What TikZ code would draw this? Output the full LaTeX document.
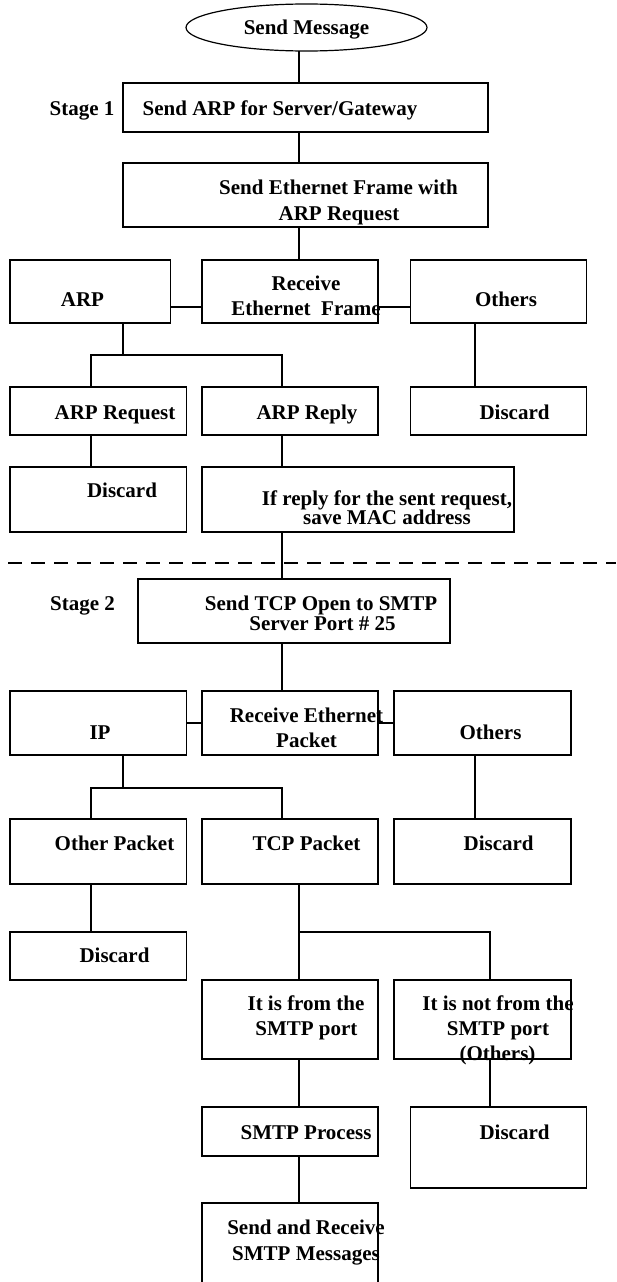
\documentclass[tikz,border=0pt]{standalone}
\usepackage{fontspec}
\setmainfont{Liberation Serif}
\usetikzlibrary{shapes.geometric}
\tikzset{
  ln/.style={line width=1.2pt},
  box/.style={draw, line width=1.2pt, rectangle, inner sep=0pt, outer sep=0pt},
  tx/.style={anchor=base, inner sep=0pt, font=\fontsize{21}{25}\selectfont\bfseries},
  dashline/.style={line width=1.2pt, dash pattern=on 14pt off 9pt}
}
\newcommand{\bx}[5]{\node[box, minimum width={#4-#2}, minimum height={#5-#3}] (#1) at ({(#2+#4)/2},{(#3+#5)/2}) {};}
\newcommand{\tx}[4]{\node[tx] (#1) at (#2,{#3+7}) {#4};}
\begin{document}
\begin{tikzpicture}[x=1pt,y=-1pt]
\clip (0,0) rectangle (616,1282);
% coordinates for connector positions
\coordinate (xa) at (299,0);
\coordinate (xb) at (123,0);
\coordinate (xl) at (91,0);
\coordinate (xr) at (282,0);
\coordinate (xo) at (475,0);
\coordinate (xn) at (490,0);
\coordinate (ya) at (0,307);
\coordinate (yb) at (0,723);
\coordinate (j1) at (0,355);
\coordinate (j2) at (0,788);
\coordinate (j3) at (0,932);
\coordinate (dl) at (8,563);
\coordinate (dr) at (616,563);
% boxes
\node[draw, ellipse, line width=1.2pt, inner sep=0pt, outer sep=0pt, minimum width=241, minimum height=47] (start) at (306.5,27.5) {};
\bx{arp1}{123}{83}{488}{132}
\bx{eth1}{123}{163}{488}{227}
\bx{arp}{10}{260}{170.5}{323}
\bx{recv1}{202}{260}{378}{323}
\bx{oth1}{410.6}{260}{586.6}{323}
\bx{arpreq}{10}{387}{186.6}{435}
\bx{arprep}{202}{387}{378}{435}
\bx{disc1}{410.6}{387}{586.6}{435}
\bx{disc2}{10}{467}{186.6}{532}
\bx{ifrep}{202}{467}{514}{532}
\bx{tcpopen}{138}{579}{450}{643}
\bx{ip}{10}{691}{186.6}{755}
\bx{recv2}{202}{691}{378}{755}
\bx{oth2}{394}{691}{571}{755}
\bx{otherpkt}{10}{819}{186.6}{884}
\bx{tcppkt}{202}{819}{378}{884}
\bx{disc3}{394}{819}{571}{884}
\bx{disc4}{10}{932}{186.6}{980}
\bx{fromsmtp}{202}{980}{378}{1059}
\bx{notsmtp}{394}{980}{571}{1059}
\bx{smtpproc}{202}{1107}{378}{1156}
\bx{disc5}{410.6}{1107}{586.6}{1188}
\bx{sendrecv}{202}{1203}{378}{1300}
% dashed separator
\draw[dashline] (dl) -- (dr);
% connectors
\draw[ln] (start.south -| xa) -- (arp1.north -| xa);
\draw[ln] (arp1.south -| xa) -- (eth1.north -| xa);
\draw[ln] (eth1.south -| xa) -- (recv1.north -| xa);
\draw[ln] (arp.east |- ya) -- (recv1.west |- ya);
\draw[ln] (recv1.east |- ya) -- (oth1.west |- ya);
\draw[ln] (arp.south -| xb) -- (xb |- j1);
\draw[ln] (arpreq.north -| xl) -- (xl |- j1) -- (xr |- j1) -- (arprep.north -| xr);
\draw[ln] (oth1.south -| xo) -- (disc1.north -| xo);
\draw[ln] (arpreq.south -| xl) -- (disc2.north -| xl);
\draw[ln] (arprep.south -| xr) -- (ifrep.north -| xr);
\draw[ln] (ifrep.south -| xr) -- (tcpopen.north -| xr);
\draw[ln] (tcpopen.south -| xr) -- (recv2.north -| xr);
\draw[ln] (ip.east |- yb) -- (recv2.west |- yb);
\draw[ln] (recv2.east |- yb) -- (oth2.west |- yb);
\draw[ln] (ip.south -| xb) -- (xb |- j2);
\draw[ln] (otherpkt.north -| xl) -- (xl |- j2) -- (xr |- j2) -- (tcppkt.north -| xr);
\draw[ln] (oth2.south -| xo) -- (disc3.north -| xo);
\draw[ln] (otherpkt.south -| xl) -- (disc4.north -| xl);
\draw[ln] (tcppkt.south -| xa) -- (fromsmtp.north -| xa);
\draw[ln] (xa |- j3) -- (xn |- j3) -- (notsmtp.north -| xn);
\draw[ln] (fromsmtp.south -| xa) -- (smtpproc.north -| xa);
\draw[ln] (notsmtp.south -| xn) -- (disc5.north -| xn);
\draw[ln] (smtpproc.south -| xa) -- (sendrecv.north -| xa);
% texts
\tx{t0}{306.5}{27.5}{Send Message}
\tx{s1}{82}{108}{Stage 1}
\tx{t1}{280}{108}{Send ARP for Server/Gateway}
\tx{t2a}{338.5}{187}{Send Ethernet Frame with}
\tx{t2b}{339}{213}{ARP Request}
\tx{t3}{82.5}{299}{ARP}
\tx{t4a}{306}{283}{Receive}
\tx{t4b}{306}{308}{Ethernet\ \ Frame}
\tx{t5}{506}{299}{Others}
\tx{t6}{115}{412}{ARP Request}
\tx{t7}{307}{412}{ARP Reply}
\tx{t8}{514.5}{412}{Discard}
\tx{t9}{122}{490}{Discard}
\tx{t10a}{387}{498}{If reply for the sent request,}
\tx{t10b}{387}{517}{save MAC address}
\tx{s2}{82.5}{603}{Stage 2}
\tx{t11a}{321}{603}{Send TCP Open to SMTP}
\tx{t11b}{322.5}{623}{Server Port \# 25}
\tx{t12}{100}{732}{IP}
\tx{t13a}{306.5}{715}{Receive Ethernet}
\tx{t13b}{306.5}{740}{Packet}
\tx{t14}{490.5}{732}{Others}
\tx{t15}{114.5}{843}{Other Packet}
\tx{t16}{306.5}{843}{TCP Packet}
\tx{t17}{498.6}{843}{Discard}
\tx{t18}{114.5}{955}{Discard}
\tx{t19a}{306}{1003}{It is from the}
\tx{t19b}{306.4}{1028}{SMTP port}
\tx{t20a}{498}{1003}{It is not from the}
\tx{t20b}{498}{1028}{SMTP port}
\tx{t20c}{497.5}{1053}{(Others)}
\tx{t21}{306}{1132}{SMTP Process}
\tx{t22}{514.5}{1132}{Discard}
\tx{t23a}{306}{1227}{Send and Receive}
\tx{t23b}{306}{1253}{SMTP Messages}
\end{tikzpicture}
\end{document}
